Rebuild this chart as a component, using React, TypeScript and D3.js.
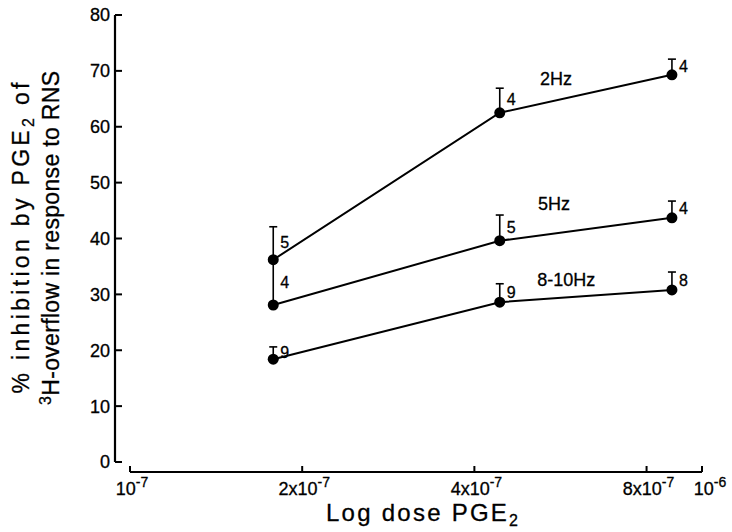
import React, { useEffect, useRef } from "react";
import * as d3 from "d3";

// dose (M) at which each frequency was tested
const doses = [1.78e-7, 4.43e-7, 8.86e-7];
const xTicks = [1e-7, 2e-7, 4e-7, 8e-7, 1e-6];
const xTickMant = ["", "2x", "4x", "8x", ""];
const xTickExp = ["-7", "-7", "-7", "-7", "-6"];
const yTicks = [0, 10, 20, 30, 40, 50, 60, 70, 80];

const seriesNames = ["2Hz", "5Hz", "8-10Hz"];
const hz2 = [36.2, 62.5, 69.3];
const hz2Err = [5.9, 4.4, 2.8];
const hz2N = [5, 4, 4];
const hz5 = [28.1, 39.6, 43.7];
const hz5Err = [8.0, 4.6, 3.0];
const hz5N = [4, 5, 4];
const hz10 = [18.4, 28.6, 30.8];
const hz10Err = [2.2, 3.3, 3.2];
const hz10N = [9, 9, 8];
// where each series name sits (dose, % inhibition)
const nameAt = [
  [5.21e-7, 67.5],
  [5.17e-7, 45.1],
  [5.15e-7, 31.5],
];

const FONT = "'Liberation Sans', Arial, Helvetica, sans-serif";

const App = () => {
  const svgRef = useRef<SVGSVGElement>(null);

  useEffect(() => {
    const svg = d3.select(svgRef.current);
    svg.selectAll("*").remove();

    const x = d3.scaleLog().domain([1e-7, 1e-6]).range([130, 702]);
    const y = d3.scaleLinear().domain([0, 80]).range([462, 15]);

    const g = svg.append("g")
      .attr("font-family", FONT)
      .attr("fill", "#000");

    // y axis, ticks pointing inward
    g.append("line")
      .attr("x1", 115).attr("x2", 115)
      .attr("y1", y(80)).attr("y2", y(0))
      .attr("stroke", "#000").attr("stroke-width", 2.2);
    yTicks.forEach((t) => {
      g.append("line")
        .attr("x1", 115).attr("x2", 122)
        .attr("y1", y(t)).attr("y2", y(t))
        .attr("stroke", "#000").attr("stroke-width", 2);
      g.append("text")
        .attr("x", 110).attr("y", y(t)).attr("dy", "0.36em")
        .attr("text-anchor", "end").attr("font-size", 18)
        .attr("stroke", "#000").attr("stroke-width", 0.3)
        .text(t);
    });

    // x axis, separate from y axis, ticks pointing up
    const axY = 472;
    g.append("line")
      .attr("x1", x(1e-7)).attr("x2", x(1e-6))
      .attr("y1", axY).attr("y2", axY)
      .attr("stroke", "#000").attr("stroke-width", 2.2);
    xTicks.forEach((t, i) => {
      g.append("line")
        .attr("x1", x(t)).attr("x2", x(t))
        .attr("y1", axY).attr("y2", axY - 6)
        .attr("stroke", "#000").attr("stroke-width", 2);
      const lbl = g.append("text")
        .attr("x", x(t) + (i === 4 ? 8 : 2)).attr("y", 495)
        .attr("text-anchor", "middle").attr("font-size", 18)
        .attr("stroke", "#000").attr("stroke-width", 0.3);
      lbl.append("tspan").text(xTickMant[i] + "10");
      lbl.append("tspan").attr("dy", -8).attr("font-size", 14).text(xTickExp[i]);
    });

    // axis titles
    const xt = g.append("text")
      .attr("x", 422).attr("y", 521)
      .attr("text-anchor", "middle").attr("font-size", 24)
      .attr("stroke", "#000").attr("stroke-width", 0.3)
      .attr("textLength", 192).attr("lengthAdjust", "spacing");
    xt.append("tspan").text("Log dose PGE");
    xt.append("tspan").attr("dy", 5).attr("font-size", 16).text("2");

    const yt1 = g.append("text")
      .attr("transform", `translate(29,238) rotate(-90)`)
      .attr("text-anchor", "middle").attr("font-size", 23)
      .attr("stroke", "#000").attr("stroke-width", 0.3)
      .attr("textLength", 311).attr("lengthAdjust", "spacing");
    yt1.append("tspan").text("% inhibition by PGE");
    yt1.append("tspan").attr("dy", 5).attr("font-size", 16).text("2");
    yt1.append("tspan").attr("dy", -5).text(" of");

    const yt2 = g.append("text")
      .attr("transform", `translate(59,238) rotate(-90)`)
      .attr("text-anchor", "middle").attr("font-size", 23)
      .attr("stroke", "#000").attr("stroke-width", 0.3)
      .attr("textLength", 334).attr("lengthAdjust", "spacing");
    yt2.append("tspan").attr("dy", -8).attr("font-size", 16).text("3");
    yt2.append("tspan").attr("dy", 8).text("H-overflow in response to RNS");

    const series = [
      { vals: hz2, err: hz2Err, n: hz2N },
      { vals: hz5, err: hz5Err, n: hz5N },
      { vals: hz10, err: hz10Err, n: hz10N },
    ];

    const line = d3.line<number>()
      .x((_, i) => x(doses[i]))
      .y((d) => y(d));

    series.forEach((s, si) => {
      // error bars (upper only)
      s.vals.forEach((v, i) => {
        const px = x(doses[i]);
        const top = y(v + s.err[i]);
        g.append("line")
          .attr("x1", px).attr("x2", px)
          .attr("y1", y(v)).attr("y2", top)
          .attr("stroke", "#000").attr("stroke-width", 1.6);
        g.append("line")
          .attr("x1", px - 4).attr("x2", px + 4)
          .attr("y1", top).attr("y2", top)
          .attr("stroke", "#000").attr("stroke-width", 1.6);
        g.append("text")
          .attr("x", px + 7)
          .attr("y", (top + y(v)) / 2 + 5)
          .attr("font-size", 16)
          .attr("stroke", "#000").attr("stroke-width", 0.3)
          .text(s.n[i]);
      });

      g.append("path")
        .datum(s.vals)
        .attr("d", line)
        .attr("fill", "none")
        .attr("stroke", "#000")
        .attr("stroke-width", 2);

      g.selectAll(null)
        .data(s.vals)
        .join("circle")
        .attr("cx", (_, i) => x(doses[i]))
        .attr("cy", (d) => y(d))
        .attr("r", 5.5)
        .attr("fill", "#000");

      g.append("text")
        .attr("x", x(nameAt[si][0]))
        .attr("y", y(nameAt[si][1]))
        .attr("font-size", 18)
        .attr("stroke", "#000").attr("stroke-width", 0.3)
        .text(seriesNames[si]);
    });
  }, []);

  return (
    <svg
      ref={svgRef}
      width={732}
      height={532}
      style={{ position: "absolute", left: 0, top: 0, background: "#fff" }}
    />
  );
};

export default App;
